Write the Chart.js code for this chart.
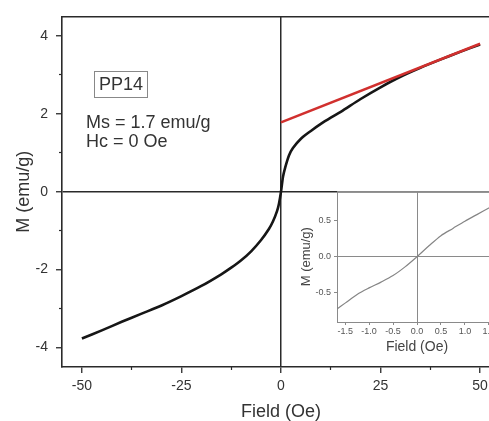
<!DOCTYPE html>
<html>
<head>
<meta charset="utf-8">
<script src="https://cdn.jsdelivr.net/npm/chart.js@4.4.1/dist/chart.umd.min.js"></script>
<style>
  html, body { margin: 0; padding: 0; background: #fff; overflow: hidden; width: 489px; height: 421px; }
  #wrap { position: relative; width: 489px; height: 421px; overflow: hidden; }
  #main { position: absolute; left: 0; top: 0; width: 502px; height: 421px; }
  #inset { position: absolute; left: 296px; top: 183px; width: 206px; height: 177px; }
  .note { position: absolute; font-family: "Liberation Sans", Arial, sans-serif; font-size: 18px; line-height: 18px; color: #333; white-space: nowrap; }
  #tag { left: 94px; top: 71px; width: 52px; height: 25px; border: 1px solid #888; text-align: center; line-height: 25px; }
</style>
</head>
<body>
<div id="wrap">
  <canvas id="main" width="502" height="421"></canvas>
  <canvas id="inset" width="206" height="177"></canvas>
  <div class="note" id="tag">PP14</div>
  <div class="note" style="left:86px; top:113px;">Ms = 1.7 emu/g</div>
  <div class="note" style="left:86px; top:132px;">Hc = 0 Oe</div>
</div>
<script>
// M(H) loop, field in Oe, magnetization in emu/g
const fieldOe = [-50, -45, -40, -35, -30, -25, -20, -15, -12.5, -10, -7.5, -5, -3, -2, -1, -0.5, 0,
                 0.5, 1, 2, 3, 5, 7.5, 10, 12.5, 15, 20, 25, 30, 35, 40, 45, 50];
const magnetization = [-3.77, -3.56, -3.34, -3.13, -2.92, -2.68, -2.42, -2.12, -1.95, -1.76, -1.53, -1.24, -0.95, -0.76, -0.5, -0.3, 0,
                       0.38, 0.6, 0.93, 1.12, 1.36, 1.56, 1.74, 1.9, 2.05, 2.38, 2.68, 2.95, 3.18, 3.39, 3.59, 3.78];

// linear high-field fit
const fitField = [0, 50];
const fitMagnetization = [1.78, 3.8];

// low-field detail
const insetField = [-1.67, -1.5, -1.25, -1.0, -0.75, -0.5, -0.25, 0, 0.25, 0.5, 0.75, 1.0, 1.25, 1.5, 1.67];
const insetMagnetization = [-0.72, -0.64, -0.52, -0.43, -0.35, -0.26, -0.14, 0, 0.15, 0.29, 0.39, 0.49, 0.58, 0.67, 0.73];

// tick positions
const mainXTicks = [-50, -25, 0, 25, 50];
const mainXMinor = [-37.5, -12.5, 12.5, 37.5];
const mainYTicks = [-4, -2, 0, 2, 4];
const mainYMinor = [-3, -1, 1, 3];
const insetXTicks = [-1.5, -1.0, -0.5, 0, 0.5, 1.0, 1.5];
const insetYTicks = [-0.5, 0, 0.5];

const AXIS = '#2a2a2a';
const TEXT = '#333333';
const FONT = '"Liberation Sans", Arial, sans-serif';
const GREY = '#8a8a8a';

const fixedTicks = vals => scale => { scale.ticks = vals.map(v => ({ value: v })); };
const pairs = (xs, ys) => xs.map((x, i) => ({ x: x, y: ys[i] }));
const zeroLine = color => ctx => (ctx.tick && ctx.tick.value === 0) ? color : 'rgba(0,0,0,0)';

new Chart(document.getElementById('main'), {
  type: 'line',
  data: {
    datasets: [
      { data: pairs(fitField, fitMagnetization), borderColor: '#d1302e', borderWidth: 2.6,
        pointRadius: 0, order: 0 },
      { data: pairs(fieldOe, magnetization), borderColor: '#161616', borderWidth: 2.6,
        pointRadius: 0, tension: 0.3, order: 1 }
    ]
  },
  options: {
    responsive: false, animation: false, events: [],
    layout: { padding: { top: 13, right: 2, left: 0, bottom: 0 } },
    plugins: { legend: { display: false }, tooltip: { enabled: false } },
    scales: {
      x: {
        type: 'linear', position: 'bottom', min: -55, max: 55, weight: 0,
        afterBuildTicks: fixedTicks(mainXTicks),
        afterFit: s => { s.height = 54; },
        grid: { color: zeroLine(AXIS), lineWidth: 1.5, tickColor: AXIS, tickLength: 6, tickWidth: 1.3 },
        border: { color: AXIS, width: 1.6 },
        ticks: { color: TEXT, font: { family: FONT, size: 14 }, padding: 5, maxRotation: 0, autoSkip: false },
        title: { display: true, text: 'Field (Oe)', color: TEXT, font: { family: FONT, size: 18, lineHeight: 1 }, padding: 0 }
      },
      xMinor: {
        type: 'linear', position: 'bottom', min: -55, max: 55, weight: -1,
        afterBuildTicks: fixedTicks(mainXMinor),
        afterFit: s => { s.height = 0; },
        grid: { drawOnChartArea: false, tickColor: AXIS, tickLength: 3, tickWidth: 1.2 },
        border: { display: false },
        ticks: { display: false }
      },
      xTop: {
        type: 'linear', position: 'top', min: -55, max: 55,
        afterFit: s => { s.height = 0; },
        grid: { drawOnChartArea: false, drawTicks: false },
        border: { color: AXIS, width: 1.6 },
        ticks: { display: false }
      },
      y: {
        type: 'linear', position: 'left', min: -4.5, max: 4.5, weight: 0,
        afterBuildTicks: fixedTicks(mainYTicks),
        afterFit: s => { s.width = 62; },
        grid: { color: zeroLine(AXIS), lineWidth: 1.5, tickColor: AXIS, tickLength: 6, tickWidth: 1.3 },
        border: { color: AXIS, width: 1.6 },
        ticks: { color: TEXT, font: { family: FONT, size: 14 }, padding: 8, autoSkip: false },
        title: { display: true, text: 'M (emu/g)', color: TEXT, font: { family: FONT, size: 18 }, padding: { top: 13, bottom: 0 } }
      },
      yMinor: {
        type: 'linear', position: 'left', min: -4.5, max: 4.5, weight: -1,
        afterBuildTicks: fixedTicks(mainYMinor),
        afterFit: s => { s.width = 0; },
        grid: { drawOnChartArea: false, tickColor: AXIS, tickLength: 3, tickWidth: 1.2 },
        border: { display: false },
        ticks: { display: false }
      }
    }
  }
});

new Chart(document.getElementById('inset'), {
  type: 'line',
  data: {
    datasets: [
      { data: pairs(insetField, insetMagnetization), borderColor: '#858585', borderWidth: 1.2,
        pointRadius: 0, tension: 0.3 }
    ]
  },
  options: {
    responsive: false, animation: false, events: [],
    layout: { padding: { top: 6, right: 5, left: 0, bottom: 0 } },
    plugins: { legend: { display: false }, tooltip: { enabled: false } },
    scales: {
      x: {
        type: 'linear', position: 'bottom', min: -1.67, max: 1.67,
        afterBuildTicks: fixedTicks(insetXTicks),
        afterFit: s => { s.height = 38; },
        grid: { color: zeroLine(GREY), lineWidth: 1, tickColor: GREY, tickLength: 3 },
        border: { color: GREY, width: 1 },
        ticks: { color: '#555', font: { family: FONT, size: 9 }, padding: 1, maxRotation: 0, autoSkip: false,
                 callback: v => Number(v).toFixed(1) },
        title: { display: true, text: 'Field (Oe)', color: '#444', font: { family: FONT, size: 14 }, padding: { top: 0, bottom: 4 } }
      },
      xTop: {
        type: 'linear', position: 'top', min: -1.67, max: 1.67,
        afterFit: s => { s.height = 0; },
        grid: { drawOnChartArea: false, drawTicks: false },
        border: { color: GREY, width: 1 },
        ticks: { display: false }
      },
      y: {
        type: 'linear', position: 'left', min: -0.9, max: 0.9,
        afterBuildTicks: fixedTicks(insetYTicks),
        afterFit: s => { s.width = 41; },
        grid: { color: zeroLine(GREY), lineWidth: 1, tickColor: GREY, tickLength: 3 },
        border: { color: GREY, width: 1 },
        ticks: { color: '#555', font: { family: FONT, size: 9 }, padding: 3, autoSkip: false,
                 callback: v => Number(v).toFixed(1) },
        title: { display: true, text: 'M (emu/g)', color: '#444', font: { family: FONT, size: 13 }, padding: { top: 3, bottom: 0 } }
      }
    }
  }
});
</script>
</body>
</html>
